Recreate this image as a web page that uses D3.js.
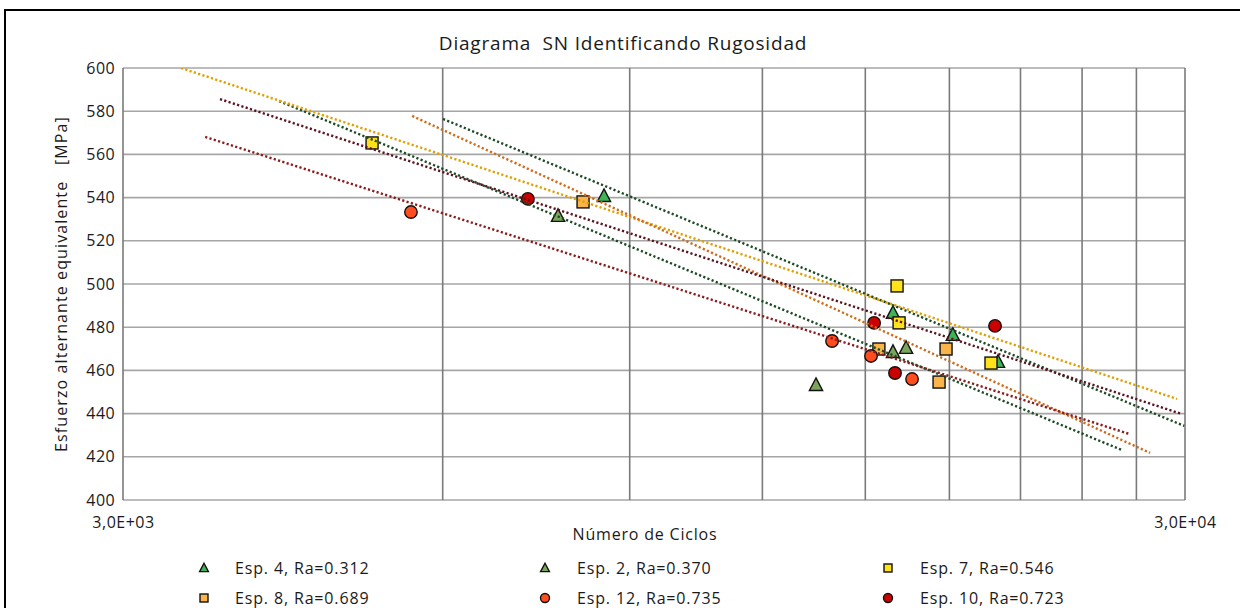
<!DOCTYPE html>
<html><head><meta charset="utf-8">
<script src="https://cdn.jsdelivr.net/npm/d3@7"></script>
<style>body{margin:0;background:#fff;} svg{display:block;font-family:"Open Sans","Noto Sans",sans-serif;}</style>
</head><body>
<svg id="c" width="1240" height="608"></svg>
<script>
// ---- data ----
const seriesNames = ["Esp. 4, Ra=0.312","Esp. 2, Ra=0.370","Esp. 7, Ra=0.546","Esp. 8, Ra=0.689","Esp. 12, Ra=0.735","Esp. 10, Ra=0.723"];
const esp4X = [8512, 15928, 18137, 20000];
const esp4Y = [540.7, 486.6, 476.4, 463.9];
const esp2X = [7705, 13479, 15928, 16386];
const esp2Y = [531.5, 453.2, 468.5, 470.4];
const esp7X = [5148, 16069, 16140, 19699];
const esp7Y = [565.3, 499.1, 482.0, 463.4];
const esp8X = [8134, 15449, 17870, 17601];
const esp8Y = [538.0, 469.9, 469.9, 454.6];
const esp12X = [5601, 13957, 15187, 16600];
const esp12Y = [533.3, 473.6, 466.7, 456.0];
const esp10X = [7217, 15288, 15998, 19872];
const esp10Y = [539.4, 482.0, 458.8, 480.6];
// trend lines (log fit): [startX, startY, endX, endY]
const trend4 = [6004, 576.4, 29950, 434.3];
const trend2 = [4209, 584.7, 26170, 423.1];
const trend7 = [3402, 600.0, 29490, 446.8];
const trend8 = [5616, 577.8, 27810, 421.8];
const trend12 = [3585, 568.1, 26570, 430.6];
const trend10 = [3702, 585.6, 29800, 439.8];
const yTicks = [400,420,440,460,480,500,520,540,560,580,600];
const xGrid = [6000,9000,12000,15000,18000,21000,24000,27000];
const xTickLabels = ["3,0E+03","3,0E+04"];
const xTickValues = [3000,30000];

// ---- styles ----
const series = [
  {name:seriesNames[0], xs:esp4X, ys:esp4Y, trend:trend4, shape:"tri", fill:"#3fb357", line:"#1d4a25"},
  {name:seriesNames[1], xs:esp2X, ys:esp2Y, trend:trend2, shape:"tri", fill:"#7ba55a", line:"#1d4a25"},
  {name:seriesNames[2], xs:esp7X, ys:esp7Y, trend:trend7, shape:"sq", fill:"#ffe21a", line:"#e0a000"},
  {name:seriesNames[3], xs:esp8X, ys:esp8Y, trend:trend8, shape:"sq", fill:"#f9b44a", line:"#d06a18"},
  {name:seriesNames[4], xs:esp12X, ys:esp12Y, trend:trend12, shape:"circ", fill:"#ff4d1f", line:"#8a1c1c"},
  {name:seriesNames[5], xs:esp10X, ys:esp10Y, trend:trend10, shape:"circ", fill:"#cc0000", line:"#5a1520"}
];
const FONT = "'Open Sans','Noto Sans',sans-serif";
const TXT = "#1a1a1a";

const svg = d3.select("#c");
const L=123, R=1185, T=68, B=500;
const x = d3.scaleLog().domain([3000,30000]).range([L,R]);
const y = d3.scaleLinear().domain([400,600]).range([B,T]);

// outer border
svg.append("rect").attr("x",5).attr("y",10).attr("width",1250).attr("height",620)
  .attr("fill","none").attr("stroke","#000").attr("stroke-width",2);

// title
svg.append("text").attr("x",623).attr("y",50).attr("text-anchor","middle")
  .attr("font-size",19).attr("letter-spacing",0.8).attr("fill",TXT).attr("xml:space","preserve").text("Diagrama  SN Identificando Rugosidad");

// grid
const g = svg.append("g");
g.selectAll("line.h").data(yTicks).join("line")
  .attr("x1",L).attr("x2",R).attr("y1",d=>y(d)).attr("y2",d=>y(d))
  .attr("stroke","#a6a6a6").attr("stroke-width",1.6);
g.selectAll("line.v").data(xGrid.concat(xTickValues)).join("line")
  .attr("y1",T).attr("y2",B).attr("x1",d=>x(d)).attr("x2",d=>x(d))
  .attr("stroke","#7a7a7a").attr("stroke-width",1.6);

// y axis labels
const yAxis = d3.axisLeft(y).tickValues(yTicks).tickSize(0).tickPadding(8);
const ya = svg.append("g").attr("transform",`translate(${L},0)`).call(yAxis);
ya.select(".domain").remove();
ya.selectAll("text").attr("font-size",16).attr("letter-spacing",0.4).attr("fill",TXT).attr("font-family",FONT);

// x axis labels
const xAxis = d3.axisBottom(x).tickValues(xTickValues).tickFormat((d,i)=>xTickLabels[i]).tickSize(0).tickPadding(17);
const xa = svg.append("g").attr("transform",`translate(0,${B})`).call(xAxis);
xa.select(".domain").remove();
xa.selectAll("text").attr("font-size",16).attr("letter-spacing",0.5).attr("fill",TXT).attr("font-family",FONT);

// axis titles
svg.append("text").attr("x",645).attr("y",540).attr("text-anchor","middle").attr("font-size",16).attr("letter-spacing",0.8).attr("fill",TXT).text("Número de Ciclos");
svg.append("text").attr("transform",`translate(67,${(T+B)/2}) rotate(-90)`).attr("text-anchor","middle")
  .attr("font-size",16).attr("letter-spacing",1.1).attr("fill",TXT).attr("xml:space","preserve").text("Esfuerzo alternante equivalente   [MPa]");

// marker drawing
function marker(sel, shape, s){
  if(shape==="tri") return sel.append("path").attr("d",`M0,${-s*0.6}L${s*0.55},${s*0.45}L${-s*0.55},${s*0.45}Z`);
  if(shape==="sq") return sel.append("rect").attr("x",-s/2).attr("y",-s/2).attr("width",s).attr("height",s);
  return sel.append("circle").attr("r",s/2);
}

svg.append("clipPath").attr("id","pc").append("rect").attr("x",L).attr("y",T).attr("width",R-L).attr("height",B-T);

// markers
series.forEach(s=>{
  const gg = svg.append("g");
  s.xs.forEach((xv,i)=>{
    const m = gg.append("g").attr("transform",`translate(${x(xv)},${y(s.ys[i])})`);
    marker(m, s.shape, s.shape==="circ"?12.5:12).attr("fill",s.fill).attr("stroke","#111").attr("stroke-width",1.4);
  });
});

// trend lines
const tl = svg.append("g").attr("clip-path","url(#pc)");
series.forEach(s=>{
  tl.append("line").attr("x1",x(s.trend[0])).attr("y1",y(s.trend[1])).attr("x2",x(s.trend[2])).attr("y2",y(s.trend[3]))
    .attr("stroke",s.line).attr("stroke-width",2.4).attr("stroke-dasharray","2.2 2.3");
});

// legend
const legCols=[204,545,888], legText=[235,577,920], legRows=[568,598];
series.forEach((s,i)=>{
  const c=i%3, r=Math.floor(i/3);
  const m = svg.append("g").attr("transform",`translate(${legCols[c]},${legRows[r]})`);
  marker(m, s.shape, s.shape==="circ"?9:8).attr("fill",s.fill).attr("stroke","#111").attr("stroke-width",1.4);
  svg.append("text").attr("x",legText[c]).attr("y",legRows[r]+6).attr("font-size",16).attr("letter-spacing",0.85).attr("fill",TXT).text(s.name);
});
</script>
</body></html>
